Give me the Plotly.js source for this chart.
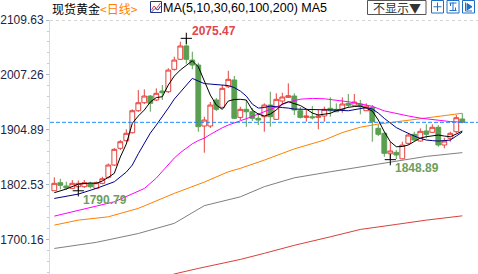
<!DOCTYPE html>
<html><head><meta charset="utf-8">
<script src="https://cdn.plot.ly/plotly-3.0.1.min.js"></script>
<style>html,body{margin:0;padding:0;background:#fff;}#chart{width:478px;height:274px;}</style>
</head><body><div id="chart"></div>
<script>
// ---- data ----
const opens  = [1790.9,1805.9,1799.7,1795.4,1798.4,1798.4,1804.7,1795.4,1804.7,1815.9,1838.9,1870.1,1884.3,1899.2,1940.3,1955.2,1967.7,1960.3,1977.1,1975.8,2017.6,2036.3,2061.2,2034.9,2025.6,1911.7,1911.7,1960.3,1946.6,1985.1,1997.6,1927.9,1942.9,1938.4,1926.1,1929.1,1950.9,1924.2,1958.4,1965.3,1967.7,1940.3,1927.9,1929.0,1927.9,1930.4,1944.8,1942.9,1942.9,1954.1,1950.4,1952.8,1940.3,1946.6,1907.4,1898.1,1860.0,1862.6,1850.5,1879.4,1896.2,1883.7,1902.4,1899.9,1909.3,1876.3,1888.8,1901.1,1924.8];
const highs  = [1815.9,1813.3,1807.7,1810.9,1810.0,1810.9,1807.7,1808.1,1817.1,1841.7,1870.6,1885.6,1905.5,1942.9,1978.9,1980.2,1969.6,1982.1,1988.3,2019.5,2041.1,2069.1,2075.47,2050.5,2029.9,1929.1,1956.5,1964.0,1988.3,2014.9,2005.1,1947.8,1960.3,1945.3,1936.0,1954.1,1975.8,1972.8,1973.9,1991.4,1972.8,1947.2,1941.6,1949.0,1941.6,1947.8,1965.3,1954.1,1965.3,1971.5,1971.5,1960.3,1954.1,1950.9,1915.0,1901.1,1882.4,1866.9,1882.4,1898.1,1901.1,1907.4,1914.9,1914.9,1913.6,1889.9,1901.1,1932.3,1935.4];
const lows   = [1790.9,1793.5,1792.2,1794.0,1790.79,1796.0,1795.4,1794.0,1803.0,1813.7,1837.0,1866.9,1882.4,1897.7,1937.9,1952.8,1938.4,1958.4,1960.3,1973.3,2015.3,2034.9,2028.0,2017.6,1901.1,1861.9,1908.0,1939.7,1945.3,1982.7,1924.8,1922.9,1910.4,1921.0,1913.6,1901.1,1910.4,1922.9,1950.9,1964.9,1932.3,1925.7,1919.8,1924.2,1905.6,1919.8,1929.1,1937.9,1936.6,1946.6,1950.4,1933.6,1939.7,1882.4,1893.0,1854.4,1848.89,1850.0,1849.5,1876.3,1883.7,1882.8,1888.8,1898.6,1873.1,1870.1,1882.4,1898.1,1916.8];
const closes = [1804.7,1801.0,1796.0,1804.7,1804.7,1805.9,1798.4,1805.9,1813.3,1838.9,1868.2,1882.4,1898.1,1940.3,1955.2,1967.7,1954.1,1972.8,1973.9,2016.2,2034.9,2061.2,2036.3,2025.6,1910.4,1922.9,1950.9,1942.9,1982.1,1998.9,1926.1,1942.9,1938.4,1926.1,1922.9,1950.9,1929.1,1961.6,1965.9,1968.3,1941.6,1927.9,1930.4,1927.2,1930.4,1942.9,1940.3,1938.4,1952.8,1950.4,1956.5,1947.8,1949.0,1919.8,1896.2,1860.8,1865.1,1857.6,1876.1,1894.9,1885.6,1901.8,1896.2,1909.3,1876.3,1883.7,1898.1,1927.2,1918.6];
const days = opens.map((_, i) => i);   // trading-day slots

const ma5Idx = [0,2,4,6,7,8,9,10,11,12,13,14,15,16,17,18,19,20,21,22,23,24,25,26,27,28,29,30,31,32,33,34,35,36,37,38,39,40,41,42,43,44,45,46,47,48,49,50,51,52,53,54,55,56,57,58,59,60,61,62,63,64,65,66,67,68];
const ma5Val = [1787.2,1794.1,1803.3,1805.3,1804.7,1809,1815.9,1823.4,1853.8,1878.1,1916.8,1930.4,1941.6,1956.5,1964.9,1966.4,1988.3,2005.1,2016.3,2025.6,2033.6,2022.4,1997.6,1969.6,1950.9,1942.9,1958.4,1961.2,1961.6,1960.3,1941.6,1934.1,1930.4,1934.1,1941.6,1952.8,1957.1,1954.1,1950,1943.5,1936,1932.3,1934.1,1935.4,1940.3,1943.5,1946.6,1948.1,1949,1944.8,1939.7,1922.9,1901.1,1882.4,1873.1,1873.5,1876.3,1882.8,1889.3,1891.7,1893,1894.9,1893,1891.7,1896.8,1902.4];

const ma10Idx = [0,4,7,10,12,13,14,15,16,17,18,19,20,21,22,23,24,25,26,27,28,29,30,31,32,33,34,35,36,37,38,39,40,42,45,47,49,51,52,53,54,55,56,57,58,59,60,61,62,63,64,65,66,67,68];
const ma10Val = [1776.5,1784.6,1795.2,1807.6,1825.7,1838.8,1860,1880,1898.5,1913.5,1928.4,1945.2,1962,1975.1,1988.2,2000.7,1995.7,1991,1990,1989.1,1988.2,1987.3,1983.5,1977,1967.6,1952.7,1945.2,1946.2,1949,1947.1,1946.2,1945.2,1943.4,1942.8,1942.8,1941.5,1940.2,1943.4,1946.2,1943.4,1935.9,1926,1917.2,1908.8,1903.2,1897.6,1893,1888.6,1885.5,1884.5,1883.6,1884.5,1885.5,1893,1900.4];

const ma30Idx = [0,4,7,10,13,15,17,18,19,20,21,22,23,24,25,26,27,28,29,30,31,33,35,37,39,41,43,45,47,49,51,53,55,57,59,61,63,65,66,68];
const ma30Val = [1743.5,1753.4,1762.2,1770.2,1784.6,1795,1814.5,1827,1840,1852,1862,1871,1878.5,1884.5,1889,1896,1903,1908.5,1913.5,1918,1921.5,1929.5,1938,1946.5,1956.4,1961.8,1963.3,1962.6,1960.2,1957,1953.1,1948.5,1940,1935,1930.5,1926.5,1923.5,1921,1920,1918.8];

const ma60Idx = [0,4,9,14,20,25,29,31,35,40,45,48,51,54,57,60,64,66,68];
const ma60Val = [1726.7,1736,1742.2,1757.9,1786,1807,1826.3,1832.6,1848.1,1869,1885.5,1899.5,1909.5,1915.4,1919.6,1924,1929.4,1932.2,1935.5];

const ma100Idx = [0,7,14,20,25,29,31,35,40,46,51,56,62,68];
const ma100Val = [1683.1,1694.5,1711,1730,1763,1774.7,1779.5,1798.5,1815,1826.3,1835.4,1845,1855,1862];

const ma200Idx = [18,20,24,29,31,35,40,46,51,57,62,68];
const ma200Val = [1628,1635.5,1645.8,1658.2,1662.6,1674,1689,1704.8,1718.6,1728,1736,1744];

const yTickVals = [1700.16,1802.53,1904.89,2007.26,2109.63];
const yTickText = ['1700.16','1802.53','1904.89','2007.26','2109.63'];

const extremeIdx = [22,56,4];
const extremeVal = [2075.47,1848.89,1790.79];
const extremeText = ['2075.47','1848.89','1790.79'];

// ---- styling ----
const RED = '#e4413c', GREEN = '#5a9e52';
const W = 478, H = 274, ML = 50, MT = 20;
const PW = W - ML, PH = H - MT;
const X = px => (px - ML) / PW;
const Y = py => (H - py) / PH;

function line(x0,y0,x1,y1,color,w,dash){
  return {type:'line',xref:'paper',yref:'paper',x0:X(x0),y0:Y(y0),x1:X(x1),y1:Y(y1),
          line:{color:color,width:w||1,dash:dash||'solid'},layer:'above'};
}
function rect(x0,y0,x1,y1,color,fill){
  return {type:'rect',xref:'paper',yref:'paper',x0:X(x0),y0:Y(y0),x1:X(x1),y1:Y(y1),
          line:{color:color,width:1},fillcolor:fill||'#ffffff',layer:'above'};
}
function path(pts,color,fill){
  let d = pts.map((p,i)=>(i?'L':'M')+X(p[0])+','+Y(p[1])).join(' ');
  if(fill) d += ' Z';
  return {type:'path',xref:'paper',yref:'paper',path:d,line:{color:color,width:1},
          fillcolor:fill||'rgba(0,0,0,0)',layer:'above'};
}

const traces = [
  {type:'candlestick', x:days, open:opens, high:highs, low:lows, close:closes,
   increasing:{line:{color:RED,width:1},fillcolor:'#ffffff'},
   decreasing:{line:{color:GREEN,width:1},fillcolor:GREEN},
   whiskerwidth:0, hoverinfo:'skip', showlegend:false},
  {type:'scatter',mode:'lines',x:ma200Idx,y:ma200Val,line:{color:'#d9403c',width:1},hoverinfo:'skip',showlegend:false},
  {type:'scatter',mode:'lines',x:ma100Idx,y:ma100Val,line:{color:'#7f7f7f',width:1},hoverinfo:'skip',showlegend:false},
  {type:'scatter',mode:'lines',x:ma60Idx,y:ma60Val,line:{color:'#ff8000',width:1},hoverinfo:'skip',showlegend:false},
  {type:'scatter',mode:'lines',x:ma30Idx,y:ma30Val,line:{color:'#ff00ff',width:1},hoverinfo:'skip',showlegend:false},
  {type:'scatter',mode:'lines',x:ma10Idx,y:ma10Val,line:{color:'#00008b',width:1},hoverinfo:'skip',showlegend:false},
  {type:'scatter',mode:'lines',x:ma5Idx,y:ma5Val,line:{color:'#000000',width:1},hoverinfo:'skip',showlegend:false},
  {type:'scatter',mode:'markers',x:extremeIdx,y:extremeVal,
   marker:{symbol:'cross-thin',size:8,line:{color:'#000',width:1}},hoverinfo:'skip',showlegend:false}
];

const shapes = [
  {type:'line',xref:'paper',yref:'y',x0:0,x1:1,y0:closes[closes.length-1],y1:closes[closes.length-1],
   line:{color:'#1e8cff',width:1,dash:'4px,2px'},layer:'above'},
  line(50,20.5,478,20.5,'#d4d4d4',1,'dot'),
  // MA icon
  rect(150.5,1.5,161.5,12.5,'#22318a','#ffffff'),
  path([[151.5,10],[154,6],[156.5,8.5],[160.5,3]],'#e0403c'),
  path([[151.5,12],[155,8.5],[158,10],[160.5,6]],'#2040c0'),
  // 不显示 box
  rect(367.5,0.5,426,14.5,'#555555','#ffffff'),
  // three buttons
  rect(431.5,0.5,443.5,13,'#1f6fc4','#ffffff'),
  line(437.5,2.5,437.5,11,'#1f6fc4'), line(433.5,6.75,441.5,6.75,'#1f6fc4'),
  rect(447,0.5,459,13,'#1f6fc4','#ffffff'),
  line(453,2.5,453,11,'#1f6fc4'), line(449.5,3,456.5,3,'#1f6fc4'), line(449.5,10.5,456.5,10.5,'#1f6fc4'),
  line(450.5,3,450.5,6,'#1f6fc4'), line(455.5,7.5,455.5,10.5,'#1f6fc4'),
  rect(462.5,0.5,474.5,13,'#1f6fc4','#ffffff'),
  line(465.5,2.5,465.5,11,'#1f6fc4'), line(465.5,11,472,11,'#1f6fc4'),
  path([[467,3.5],[472,6.75],[467,10]],'#1f6fc4','#1f6fc4')
];

const annotations = [
  {xref:'paper',yref:'paper',x:X(50),y:Y(8.3),xanchor:'left',yanchor:'middle',showarrow:false,
   text:'现货黄金',font:{family:'Noto Sans CJK SC',size:12,color:'#000'}},
  {xref:'paper',yref:'paper',x:X(98),y:Y(8.3),xanchor:'left',yanchor:'middle',showarrow:false,
   text:'&lt;日线&gt;',font:{family:'Noto Sans CJK SC',size:12,color:'#ff8000'}},
  {xref:'paper',yref:'paper',x:X(161),y:Y(8.3),xanchor:'left',yanchor:'middle',showarrow:false,
   text:'MA(5,10,30,60,100,200) MA5',font:{family:'Liberation Sans, Arial',size:12.5,color:'#000'}},
  {xref:'paper',yref:'paper',x:X(396.8),y:Y(7.5),xanchor:'center',yanchor:'middle',showarrow:false,
   text:'不显示▼',font:{family:'Noto Sans CJK SC',size:12,color:'#333'}},
  {xref:'x',yref:'y',x:extremeIdx[0],y:extremeVal[0],xanchor:'left',yanchor:'middle',xshift:4,yshift:7,showarrow:false,
   text:'<b>'+extremeText[0]+'</b>',font:{family:'Liberation Sans, Arial',size:12,color:'#e0464a'}},
  {xref:'x',yref:'y',x:extremeIdx[1],y:extremeVal[1],xanchor:'left',yanchor:'middle',xshift:3,yshift:-8,showarrow:false,
   text:'<b>'+extremeText[1]+'</b>',font:{family:'Liberation Sans, Arial',size:12,color:'#6c9e5e'}},
  {xref:'x',yref:'y',x:extremeIdx[2],y:extremeVal[2],xanchor:'left',yanchor:'middle',xshift:3,yshift:-9,showarrow:false,
   text:'<b>'+extremeText[2]+'</b>',font:{family:'Liberation Sans, Arial',size:12,color:'#6c9e5e'}}
];

const layout = {
  width:W, height:H, margin:{l:ML,r:0,t:MT,b:0,pad:0},
  paper_bgcolor:'#ffffff', plot_bgcolor:'#ffffff',
  showlegend:false, boxgap:0.2, boxgroupgap:0,
  xaxis:{range:[(ML-ML-4.3)/6, (W-ML-4.3)/6], showgrid:false, zeroline:false, showticklabels:false,
         showline:false, ticks:'', rangeslider:{visible:false}, fixedrange:true},
  yaxis:{range:[1635.4,2109.7], showgrid:false, zeroline:false, showline:true, linecolor:'#d3dde6', linewidth:1,
         tickmode:'array', tickvals:yTickVals, ticktext:yTickText, ticks:'outside', ticklen:3, tickcolor:'#9bbbd6',
         ticklabelstandoff:0,
         tickfont:{family:'Liberation Sans, Arial',size:12,color:'#1c2444'},
         minor:{tickmode:'linear', tick0:1700.16, dtick:20.474, ticklen:2, tickcolor:'#b8cde0', ticks:'outside'},
         fixedrange:true},
  shapes:shapes, annotations:annotations
};

Plotly.newPlot('chart', traces, layout, {staticPlot:true, displayModeBar:false});
</script>
</body></html>
